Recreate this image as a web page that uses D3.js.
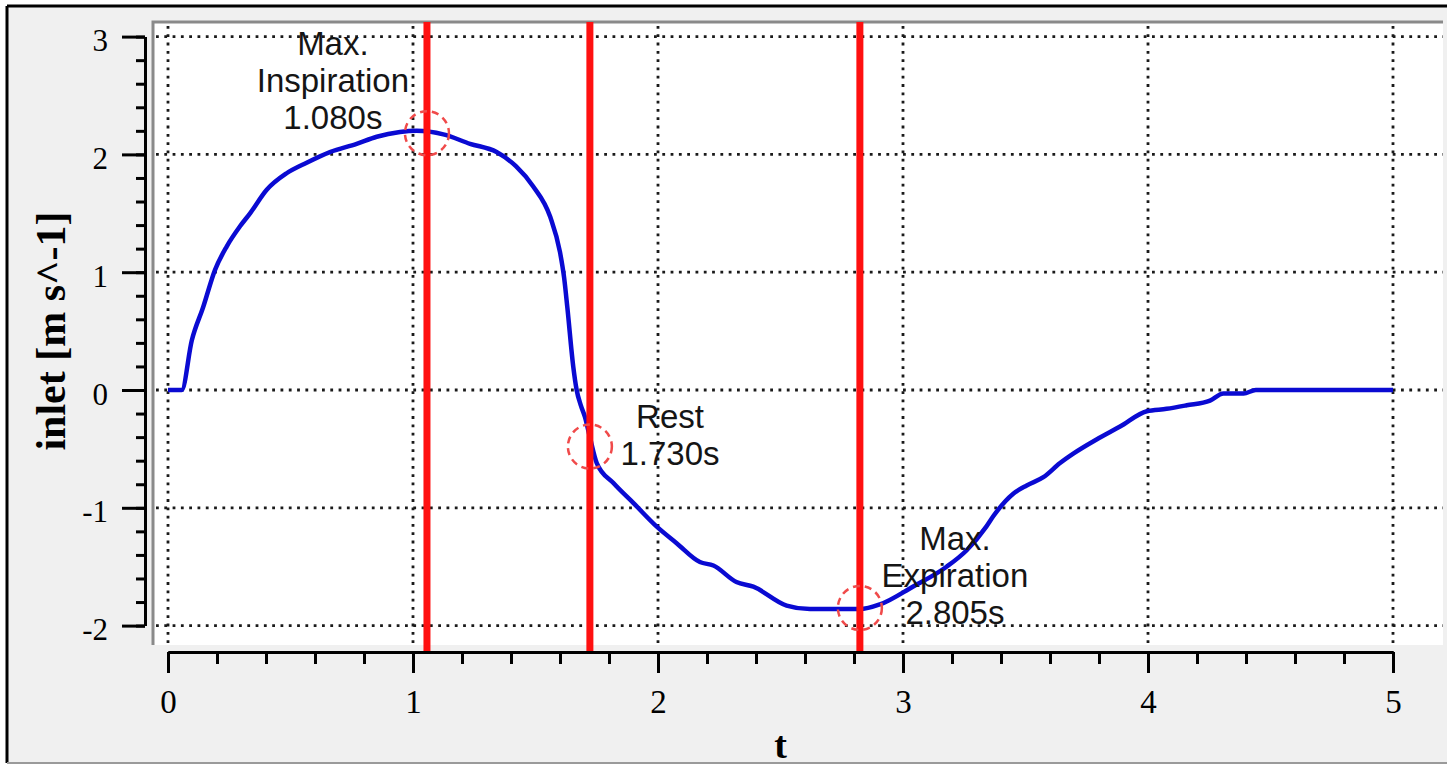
<!DOCTYPE html>
<html>
<head>
<meta charset="utf-8">
<script src="https://cdn.jsdelivr.net/npm/d3@7"></script>
<style>
  body { margin: 0; background: #fff; }
  svg { display: block; }
</style>
</head>
<body>
<div id="chart"></div>
<script>
// curve: time (s) and inlet velocity (m/s)
var timeS = [0, 0.056, 0.097, 0.143, 0.192, 0.24, 0.294, 0.335, 0.403, 0.484,
    0.566, 0.661, 0.77, 0.852, 0.947, 1.015, 1.124, 1.233, 1.341, 1.42,
    1.49, 1.56, 1.60, 1.617, 1.63, 1.654, 1.668, 1.685, 1.702,
    1.722, 1.75, 1.818, 1.90, 1.995, 2.076, 2.171, 2.226, 2.32, 2.389,
    2.525, 2.62, 2.824, 2.906, 3.04, 3.178, 3.26, 3.34, 3.369, 3.45,
    3.505, 3.573, 3.641, 3.695, 3.79, 3.886, 3.995, 4.076, 4.158, 4.253,
    4.308, 4.39, 4.44, 5.0];
var inletV = [0, 0, 0.42, 0.70, 1.02, 1.22, 1.39, 1.50, 1.70, 1.84,
    1.93, 2.02, 2.09, 2.15, 2.19, 2.20, 2.17, 2.09, 2.02, 1.90,
    1.73, 1.47, 1.17, 0.95, 0.70, 0.20, 0.0, -0.13, -0.23,
    -0.40, -0.62, -0.79, -0.96, -1.16, -1.30, -1.46, -1.49, -1.63, -1.67,
    -1.83, -1.86, -1.86, -1.82, -1.67, -1.50, -1.36, -1.16, -1.07, -0.88,
    -0.81, -0.74, -0.62, -0.54, -0.42, -0.31, -0.18, -0.16, -0.13, -0.09,
    -0.03, -0.03, 0, 0];

// marked instants (red lines) and the curve value where they are circled
var markerT = [1.057, 1.722, 2.824];
var markerV = [2.18, -0.48, -1.85];

// annotation texts and where they sit (data units)
var noteLines = [['Max.', 'Inspiration', '1.080s'], ['Rest', '1.730s'], ['Max.', 'Expiration', '2.805s']];
var noteT = [0.673, 2.049, 3.212];
var noteV = [2.84, -0.32, -1.36];

var xMajor = [0, 1, 2, 3, 4, 5];
var yMajor = [-2, -1, 0, 1, 2, 3];

var width = 1447, height = 765;

var svg = d3.select('#chart')
    .append('svg')
    .attr('width', width)
    .attr('height', height);

var x = d3.scaleLinear().domain([0, 5]).range([168, 1393]);
var y = d3.scaleLinear().domain([-2, 3]).range([625.6, 36.6]);

var xMinor = d3.range(0, 5.0001, 0.2);
var yMinor = d3.range(-2, 3.0001, 0.2);

// plain hyphen for negatives, like the original
var intFmt = function(d) { return String(Math.round(d)); };

// frame and background
svg.append('rect').attr('x', 7).attr('y', 6).attr('width', width - 7).attr('height', 757)
    .attr('fill', '#f0f0f0');
svg.append('line').attr('x1', 7).attr('x2', width).attr('y1', 6).attr('y2', 6)
    .attr('stroke', '#000').attr('stroke-width', 3);
svg.append('line').attr('x1', 7).attr('x2', 7).attr('y1', 6).attr('y2', 763)
    .attr('stroke', '#000').attr('stroke-width', 3);
svg.append('line').attr('x1', 7).attr('x2', width).attr('y1', 763).attr('y2', 763)
    .attr('stroke', '#9a9a9a').attr('stroke-width', 2);

// plot area
svg.append('rect').attr('x', 153).attr('y', 22).attr('width', 1443 - 153).attr('height', 645 - 22)
    .attr('fill', '#fff');
svg.append('path').attr('d', 'M153,645V22H1443')
    .attr('fill', 'none').attr('stroke', '#8a8a8a').attr('stroke-width', 3);

// dotted grid
var grid = svg.append('g').attr('stroke', '#1a1a1a').attr('stroke-width', 2.8)
    .attr('stroke-dasharray', '2.8 5.5');
grid.selectAll('.hg').data(yMajor).enter().append('line')
    .attr('x1', 156).attr('x2', 1443)
    .attr('y1', function(d) { return y(d); })
    .attr('y2', function(d) { return y(d); });
grid.selectAll('.vg').data(xMajor).enter().append('line')
    .attr('y1', 26).attr('y2', 645)
    .attr('x1', function(d) { return x(d); })
    .attr('x2', function(d) { return x(d); });

// the curve
var pts = timeS.map(function(t, i) { return [t, inletV[i]]; });
var line = d3.line()
    .x(function(d) { return x(d[0]); })
    .y(function(d) { return y(d[1]); })
    .curve(d3.curveMonotoneX);
svg.append('path').datum(pts)
    .attr('d', line)
    .attr('fill', 'none')
    .attr('stroke', '#0a0ad2')
    .attr('stroke-width', 4.5)
    .attr('stroke-linejoin', 'round');

// red marker lines
svg.selectAll('.marker').data(markerT).enter().append('line')
    .attr('x1', function(d) { return x(d); })
    .attr('x2', function(d) { return x(d); })
    .attr('y1', 22).attr('y2', 652)
    .attr('stroke', '#ff1010').attr('stroke-width', 7);

// dashed circles
svg.selectAll('.ring').data(markerT).enter().append('circle')
    .attr('cx', function(d) { return x(d); })
    .attr('cy', function(d, i) { return y(markerV[i]); })
    .attr('r', 22)
    .attr('fill', 'none')
    .attr('stroke', '#f04a4a')
    .attr('stroke-width', 2.5)
    .attr('stroke-dasharray', '7 5');

// annotations
noteLines.forEach(function(lines, i) {
    var t = svg.append('text')
        .attr('x', x(noteT[i]))
        .attr('y', y(noteV[i]))
        .attr('text-anchor', 'middle')
        .style('font-family', 'Liberation Sans, Arial, sans-serif')
        .style('font-size', '33px')
        .attr('fill', '#151515');
    lines.forEach(function(s, j) {
        t.append('tspan').attr('x', x(noteT[i])).attr('dy', j === 0 ? 0 : 37).text(s);
    });
});

// axes
var axisFont = 'Liberation Serif, Times New Roman, serif';

var xAxisMinor = d3.axisBottom(x).tickValues(xMinor).tickSize(12).tickSizeOuter(0).tickFormat('');
var xAxis = d3.axisBottom(x).tickValues(xMajor).tickSize(21).tickSizeOuter(0).tickFormat(intFmt);
var xg1 = svg.append('g').attr('transform', 'translate(0,652)').call(xAxisMinor);
var xg = svg.append('g').attr('transform', 'translate(0,652)').call(xAxis);
xg.selectAll('text').attr('y', 61).attr('dy', 0)
    .style('font-family', axisFont).style('font-size', '33px').attr('fill', '#000');

var yAxisMinor = d3.axisLeft(y).tickValues(yMinor).tickSize(9).tickSizeOuter(0).tickFormat('');
var yAxis = d3.axisLeft(y).tickValues(yMajor).tickSize(23).tickSizeOuter(0).tickFormat(intFmt);
var yg1 = svg.append('g').attr('transform', 'translate(145,0)').call(yAxisMinor);
var yg = svg.append('g').attr('transform', 'translate(145,0)').call(yAxis);
yg.selectAll('text').attr('x', -37).attr('dy', 14)
    .style('font-family', axisFont).style('font-size', '31px').attr('fill', '#000');

[xg1, xg, yg1, yg].forEach(function(g) {
    g.selectAll('path, line').attr('stroke', '#000').attr('stroke-width', 3);
});

// axis titles
svg.append('text')
    .attr('transform', 'translate(65,' + y(0.5) + ') rotate(-90)')
    .attr('text-anchor', 'middle')
    .style('font-family', axisFont).style('font-size', '42px').style('font-weight', 'bold')
    .text('inlet [m s^-1]');

svg.append('text')
    .attr('x', x(2.5)).attr('y', 758)
    .attr('text-anchor', 'middle')
    .style('font-family', axisFont).style('font-size', '38px').style('font-weight', 'bold')
    .text('t');
</script>
</body>
</html>
